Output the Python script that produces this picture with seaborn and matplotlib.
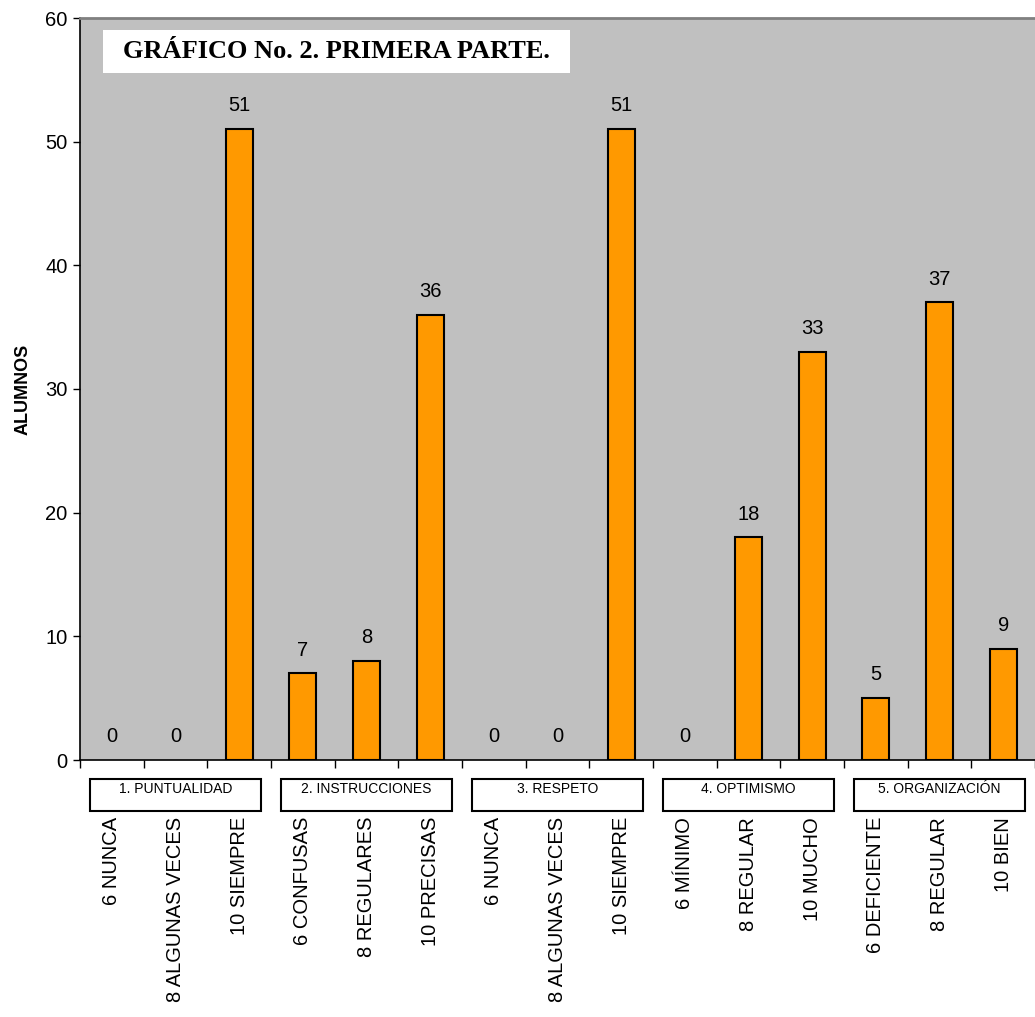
import matplotlib
matplotlib.use("Agg")
import matplotlib.pyplot as plt
import matplotlib.transforms as mtransforms
from matplotlib.patches import Rectangle
import seaborn as sns
import pandas as pd

categories = ["6 NUNCA", "8 ALGUNAS VECES", "10 SIEMPRE",
              "6 CONFUSAS", "8 REGULARES", "10 PRECISAS",
              "6 NUNCA ", "8 ALGUNAS VECES ", "10 SIEMPRE ",
              "6 MÍNIMO", "8 REGULAR", "10 MUCHO",
              "6 DEFICIENTE", "8 REGULAR ", "10 BIEN"]
values = [0, 0, 51, 7, 8, 36, 0, 0, 51, 0, 18, 33, 5, 37, 9]
groups = ["1. PUNTUALIDAD", "2. INSTRUCCIONES", "3. RESPETO",
          "4. OPTIMISMO", "5. ORGANIZACIÓN"]
title = "GRÁFICO No. 2. PRIMERA PARTE."
ylabel = "ALUMNOS"
yticks = [0, 10, 20, 30, 40, 50, 60]

sns.set_style("white")
plt.rcParams['font.family'] = ['Liberation Sans', 'DejaVu Sans']
plt.rcParams['text.color'] = 'black'
plt.rcParams['axes.labelcolor'] = 'black'
plt.rcParams['xtick.color'] = 'black'
plt.rcParams['ytick.color'] = 'black'

df = pd.DataFrame({"cat": categories, "val": values})

fig = plt.figure(figsize=(10.35, 10.17), dpi=100)
ax = fig.add_axes([80/1035, (1017-760)/1017, (1035-80)/1035, 742/1017])
ax.set_facecolor("#C0C0C0")

sns.barplot(data=df, x="cat", y="val", order=categories, color="#FF9900",
            edgecolor="black", linewidth=1.5, width=0.42, saturation=1, ax=ax)

for c in ax.containers:
    for bar, v in zip(c, values):
        if v == 0:
            bar.set_edgecolor("none")
    ax.bar_label(c, labels=[str(v) for v in values], padding=10, fontsize=14.5,
                 color="black")

ax.set_xlim(-0.5, len(categories) - 0.5)
ax.set_ylim(0, 60)
ax.set_yticks(yticks)
ax.set_yticklabels([str(t) for t in yticks], fontsize=14.5)
ax.tick_params(axis="y", length=5, width=1, color="black", labelcolor="black",
               direction="out", pad=4, left=True)

ax.set_xticks(range(len(categories)))
ax.set_xticklabels([c.strip() for c in categories], rotation=90, fontsize=14.5)
ax.tick_params(axis="x", which="major", length=0, pad=41, labelcolor="black")
ax.set_xticks([i - 0.5 for i in range(len(categories) + 1)], minor=True)
ax.tick_params(axis="x", which="minor", length=6, width=1, color="black",
               direction="out", bottom=True)

ax.set_xlabel("")
ax.set_ylabel(ylabel, fontsize=13, fontweight="bold", labelpad=10, color="black")

for side in ["left", "bottom"]:
    ax.spines[side].set_color("black")
    ax.spines[side].set_linewidth(1.2)
ax.spines["top"].set_color("#808080")
ax.spines["top"].set_linewidth(2)
ax.spines["right"].set_visible(False)

# group boxes
trans = mtransforms.blended_transform_factory(ax.transData, ax.transAxes)
bw = 2.69
for i, g in enumerate(groups):
    cx = 3 * i + 1
    rect = Rectangle((cx - bw / 2, -0.0687), bw, 0.0431, transform=trans,
                     facecolor="white", edgecolor="black", linewidth=1.5,
                     clip_on=False)
    ax.add_patch(rect)
    ax.text(cx, -0.0385, g, transform=trans, ha="center", va="center",
            fontsize=10, color="black", clip_on=False)

# title box
ax.add_patch(Rectangle((0.024, 0.926), 0.489, 0.058, transform=ax.transAxes,
                       facecolor="white", edgecolor="none", zorder=3))
ax.text(0.2685, 0.955, title, transform=ax.transAxes, ha="center", va="center",
        fontsize=19, fontweight="bold", color="black",
        family=["Liberation Serif", "DejaVu Serif"], zorder=4)

fig.savefig("out.png", dpi=100)
